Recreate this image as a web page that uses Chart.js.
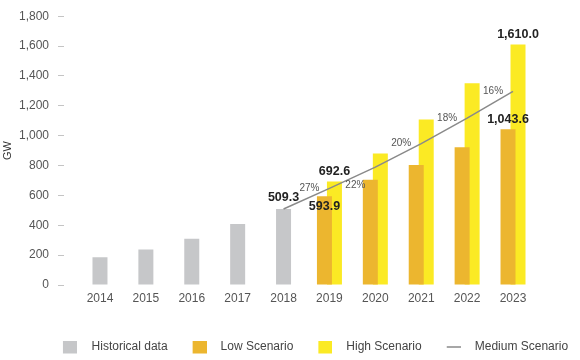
<!DOCTYPE html>
<html>
<head>
<meta charset="utf-8">
<script src="https://cdn.jsdelivr.net/npm/chart.js@4/dist/chart.umd.min.js"></script>
<style>
  html, body { margin: 0; padding: 0; background: #ffffff; }
  #wrap { width: 580px; height: 360px; }
</style>
</head>
<body>
<div id="wrap"><canvas id="c" width="580" height="360"></canvas></div>
<script>
const years = [2014, 2015, 2016, 2017, 2018, 2019, 2020, 2021, 2022, 2023];
const historical = [185, 237, 310, 409, 509.3, null, null, null, null, null];
const lowScenario = [null, null, null, null, null, 593.9, 705, 804, 923, 1043.6];
const highScenario = [null, null, null, null, null, 692.6, 880, 1108, 1351, 1610.0];
const mediumScenario = [null, null, null, null, 509.3, 647, 789, 947, 1117, 1296];
const growthLabels = [null, null, null, null, null, '27%', '22%', '20%', '18%', '16%'];
const yTicks = [0, 200, 400, 600, 800, 1000, 1200, 1400, 1600, 1800];
const seriesNames = ['Historical data', 'Low Scenario', 'High Scenario', 'Medium Scenario'];
const labelledYears = { historical: [2018], low: [2019, 2023], high: [2019, 2023] };

const colors = { hist: '#c6c7c9', low: '#ecb62f', high: '#fbea24', med: '#8a8a8a' };

Chart.defaults.font.family = "'Liberation Sans', Arial, Helvetica, sans-serif";
Chart.defaults.animation = false;

// legend icons: the square is placed inside a wider transparent canvas
function makeIcon(color, w, h, cw) {
  const c = document.createElement('canvas');
  c.width = cw; c.height = 14;
  const g = c.getContext('2d');
  g.fillStyle = color;
  g.fillRect(cw - 14, (14 - h) / 2, w, h);
  return c;
}
const legendIcons = [
  makeIcon(colors.hist, 14, 13, 83),
  makeIcon(colors.low, 14, 13, 31),
  makeIcon(colors.high, 14, 13, 31),
  makeIcon('#8a8a8a', 14, 1.5, 31)
];
const legendLead = ['        ', '', '', ''];

const fmt = v => v.toLocaleString('en-US', { minimumFractionDigits: 1, maximumFractionDigits: 1 });

const annotate = {
  id: 'annotate',
  afterDatasetsDraw(chart) {
    const ctx = chart.ctx;
    ctx.save();
    ctx.textAlign = 'center';
    ctx.textBaseline = 'middle';
    ctx.font = "bold 12.5px 'Liberation Sans', Arial, sans-serif";
    ctx.fillStyle = '#222';
    const specs = [
      { ds: 0, years: labelledYears.historical, dy: () => -11 },
      { ds: 2, years: labelledYears.high, dy: () => -10 },
      { ds: 1, years: labelledYears.low, dy: (y) => (y === 2019 ? 10 : -10) }
    ];
    specs.forEach(s => {
      const meta = chart.getDatasetMeta(s.ds);
      const data = chart.data.datasets[s.ds].data;
      s.years.forEach(yr => {
        const i = years.indexOf(yr);
        const el = meta.data[i];
        if (!el || data[i] == null) return;
        ctx.fillText(fmt(data[i]), el.x, el.y + s.dy(yr));
      });
    });
    ctx.font = "10px 'Liberation Sans', Arial, sans-serif";
    ctx.fillStyle = '#555';
    const lm = chart.getDatasetMeta(3);
    growthLabels.forEach((t, i) => {
      if (!t) return;
      const el = lm.data[i];
      const dy = years[i] === 2020 ? 18 : 0;
      ctx.fillText(t, el.x - 20, el.y + dy);
    });
    ctx.restore();
  }
};

new Chart(document.getElementById('c'), {
  data: {
    labels: years,
    datasets: [
      { type: 'bar', label: seriesNames[0], data: historical, backgroundColor: colors.hist,
        grouped: false, maxBarThickness: 15, order: 1 },
      { type: 'bar', label: seriesNames[1], data: lowScenario, backgroundColor: colors.low,
        categoryPercentage: 20 / 45.9, barPercentage: 1.5, order: 1 },
      { type: 'bar', label: seriesNames[2], data: highScenario, backgroundColor: colors.high,
        categoryPercentage: 20 / 45.9, barPercentage: 1.5, order: 1 },
      { type: 'line', label: seriesNames[3], data: mediumScenario, borderColor: colors.med,
        backgroundColor: colors.med, borderWidth: 1.5, pointRadius: 0, tension: 0, order: 0 }
    ]
  },
  options: {
    responsive: false,
    maintainAspectRatio: false,
    layout: { padding: { top: 12, right: 0, bottom: -3, left: 0 } },
    plugins: {
      tooltip: { enabled: false },
      legend: {
        position: 'bottom',
        align: 'center',
        labels: {
          usePointStyle: true,
          pointStyleWidth: 47,
          padding: 0,
          color: '#444',
          font: { size: 12 },
          sort: (a, b) => a.datasetIndex - b.datasetIndex,
          generateLabels(chart) {
            const items = Chart.defaults.plugins.legend.labels.generateLabels(chart);
            items.forEach(it => {
              it.pointStyle = legendIcons[it.datasetIndex];
              it.text = legendLead[it.datasetIndex] + it.text;
            });
            return items;
          }
        }
      }
    },
    scales: {
      x: {
        type: 'linear',
        offset: false,
        min: 2013.216,
        max: 2023 + (580 - 513) / 45.9,
        afterBuildTicks: s => { s.ticks = years.map(v => ({ value: v })); },
        afterFit: s => { s.height = 56; },
        grid: { display: false, drawTicks: false },
        border: { display: false },
        ticks: { callback: v => String(v), autoSkip: false, maxRotation: 0, padding: 6,
                 color: '#555', font: { size: 12 } }
      },
      y: {
        min: 0,
        max: 1800,
        afterBuildTicks: s => { s.ticks = yTicks.map(v => ({ value: v })); },
        afterFit: s => { s.width = 64; },
        grid: { drawOnChartArea: false, drawTicks: true, tickLength: 6, color: '#c4c4c4' },
        border: { display: false },
        ticks: { padding: 9, color: '#555', font: { size: 12 },
                 callback: v => v.toLocaleString('en-US') },
        title: { display: true, text: 'GW', color: '#333', font: { size: 11 },
                 padding: { top: 1, bottom: 0 } }
      }
    }
  },
  plugins: [annotate]
});
</script>
</body>
</html>
